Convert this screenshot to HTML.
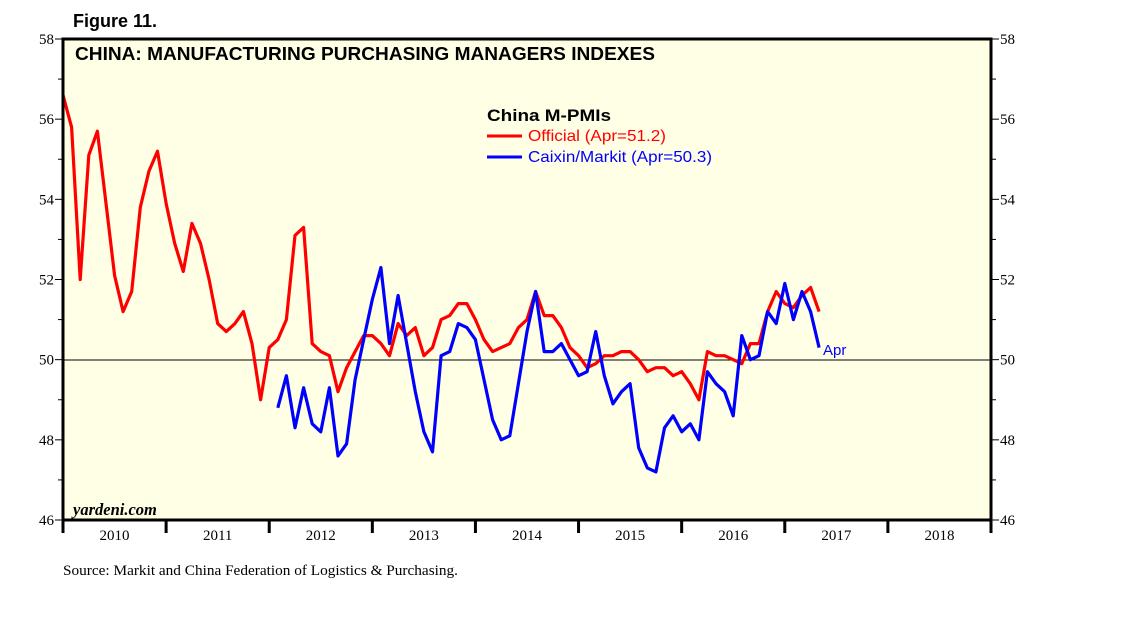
<!DOCTYPE html>
<html><head><meta charset="utf-8"><style>
body{margin:0;background:#fff;}
svg text{font-family:"Liberation Serif",serif;}
.s{font-family:"Liberation Sans",sans-serif;}
</style></head><body>
<svg width="1138" height="621" viewBox="0 0 1138 621" xmlns="http://www.w3.org/2000/svg">
<text x="73" y="27" class="s" font-size="18" font-weight="bold">Figure 11.</text>
<rect x="63" y="39" width="928" height="481" fill="#ffffe6"/>
<g id="yaxes"></g>
<line x1="63" y1="360" x2="991" y2="360" stroke="#000" stroke-width="1"/>
<g id="series"></g>
<rect x="63" y="39" width="928" height="481" fill="none" stroke="#000" stroke-width="3"/>
<g id="xaxis"></g>
<text x="75" y="60" class="s" font-size="18" font-weight="bold" textLength="580" lengthAdjust="spacingAndGlyphs">CHINA: MANUFACTURING PURCHASING MANAGERS INDEXES</text>
<text x="487" y="121" class="s" font-size="17" font-weight="bold" textLength="124" lengthAdjust="spacingAndGlyphs">China M-PMIs</text>
<line x1="487" y1="136" x2="522" y2="136" stroke="#ff0000" stroke-width="3"/>
<text x="528" y="141" class="s" font-size="16" fill="#ff0000" textLength="138" lengthAdjust="spacingAndGlyphs">Official (Apr=51.2)</text>
<line x1="487" y1="157" x2="522" y2="157" stroke="#0000ff" stroke-width="3"/>
<text x="528" y="162" class="s" font-size="16" fill="#0000ff" textLength="184" lengthAdjust="spacingAndGlyphs">Caixin/Markit (Apr=50.3)</text>
<text x="823" y="355" class="s" font-size="15" fill="#0000ff">Apr</text>
<text x="73" y="515" font-size="16.5" font-style="italic" font-weight="bold">yardeni.com</text>
<text x="63" y="575" font-size="15" textLength="395" lengthAdjust="spacingAndGlyphs">Source: Markit and China Federation of Logistics &amp; Purchasing.</text>
</svg>
<script>
const yTicks=[46,48,50,52,54,56,58];
const years=["2010","2011","2012","2013","2014","2015","2016","2017","2018"];
// Official starts Dec 2009
const official=[56.6,
55.8,52.0,55.1,55.7,53.9,52.1,51.2,51.7,53.8,54.7,55.2,53.9,
52.9,52.2,53.4,52.9,52.0,50.9,50.7,50.9,51.2,50.4,49.0,50.3,
50.5,51.0,53.1,53.3,50.4,50.2,50.1,49.2,49.8,50.2,50.6,50.6,
50.4,50.1,50.9,50.6,50.8,50.1,50.3,51.0,51.1,51.4,51.4,51.0,
50.5,50.2,50.3,50.4,50.8,51.0,51.7,51.1,51.1,50.8,50.3,50.1,
49.8,49.9,50.1,50.1,50.2,50.2,50.0,49.7,49.8,49.8,49.6,49.7,
49.4,49.0,50.2,50.1,50.1,50.0,49.9,50.4,50.4,51.2,51.7,51.4,
51.3,51.6,51.8,51.2];
// Caixin starts Jan 2012
const caixin=[48.8,49.6,48.3,49.3,48.4,48.2,49.3,47.6,47.9,49.5,50.5,51.5,
52.3,50.4,51.6,50.4,49.2,48.2,47.7,50.1,50.2,50.9,50.8,50.5,
49.5,48.5,48.0,48.1,49.4,50.7,51.7,50.2,50.2,50.4,50.0,49.6,
49.7,50.7,49.6,48.9,49.2,49.4,47.8,47.3,47.2,48.3,48.6,48.2,
48.4,48.0,49.7,49.4,49.2,48.6,50.6,50.0,50.1,51.2,50.9,51.9,
51.0,51.7,51.2,50.3];
const officialStart=-1, caixinStart=24; // months from Jan 2010
const X0=63,X1=991,Y0=520,Y1=39,yMin=46,yMax=58;
const yearW=(X1-X0)/9, monW=yearW/12;
const y=v=>Y0-(v-yMin)/(yMax-yMin)*(Y0-Y1);
const x=m=>X0+(m+1)*monW;
const NS="http://www.w3.org/2000/svg";
function mk(t,a,p){const e=document.createElementNS(NS,t);for(const k in a)e.setAttribute(k,a[k]);p.appendChild(e);return e;}
const ya=document.getElementById('yaxes');
for(let v=yMin;v<=yMax;v++){
  const major=v%2===0, L=major?8:5, yy=y(v);
  let t=mk('line',{x1:X0-L,y1:yy,x2:X0,y2:yy,stroke:'#000','stroke-width':1},ya);
  
  
  t=mk('line',{x1:X1,y1:yy,x2:X1+L,y2:yy,stroke:'#000','stroke-width':1},ya);
  
  
}
yTicks.forEach(v=>{
  let t=mk('text',{x:X0-9,y:y(v)+5,'font-size':15,'text-anchor':'end'},ya);t.textContent=v;
  
  
  t=mk('text',{x:X1+9,y:y(v)+5,'font-size':15},ya);t.textContent=v;
  
  
});
const xa=document.getElementById('xaxis');
for(let i=0;i<=9;i++){
  const l=mk('line',{x1:X0+i*yearW,y1:Y0,x2:X0+i*yearW,y2:Y0+13,stroke:'#000','stroke-width':3},xa);
  
  
}
years.forEach((s,i)=>{
  const t=mk('text',{x:X0+(i+0.5)*yearW,y:Y0+20,'font-size':15,'text-anchor':'middle'},xa);t.textContent=s;
  
  
});
const sg=document.getElementById('series');
function line(data,start,col,name){
  const pts=data.map((v,i)=>x(start+i).toFixed(1)+','+y(v).toFixed(1)).join(' ');
  const p=mk('polyline',{points:pts,fill:'none',stroke:col,'stroke-width':3.2,'stroke-linejoin':'round'},sg);
  
  
}
line(official,officialStart,'#ff0000','official-line');
line(caixin,caixinStart,'#0000ff','caixin-line');
</script>
</body></html>
